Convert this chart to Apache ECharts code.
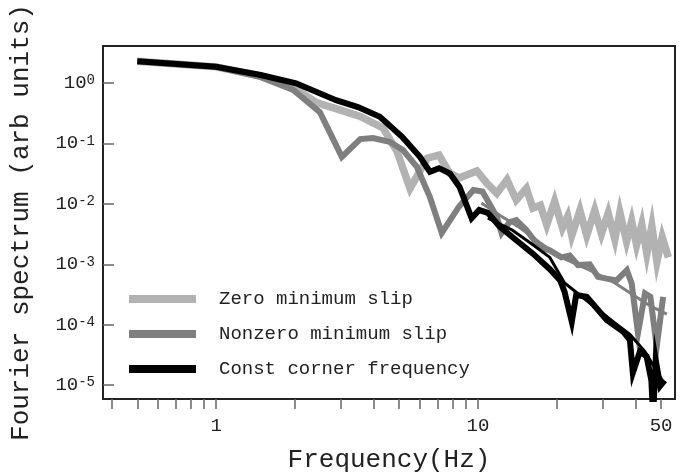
<!DOCTYPE html>
<html>
<head>
<meta charset="utf-8">
<script src="https://cdn.jsdelivr.net/npm/echarts@6/dist/echarts.min.js"></script>
<style>
  html, body { margin: 0; padding: 0; background: #fff; }
  #chart { width: 689px; height: 474px; }
</style>
</head>
<body>
<div id="chart"></div>
<script>
// frequency (Hz) / amplitude pairs
const zeroFreq = [0.5, 1.0, 1.48, 1.97, 2.43, 2.97, 3.55, 4.34, 4.9, 5.5, 6.4, 7.1, 7.8, 8.5, 9.9, 10.8, 11.8, 12.9, 14.0, 15.3, 16.2, 17.3, 18.3, 19.6, 21.0, 22.0, 22.8, 24.5, 26.0, 27.9, 29.6, 31.4, 33.3, 34.8, 36.9, 38.6, 40.3, 42.2, 44.1, 46.1, 48.2, 50.5, 53.3]
const zeroAmp = [2.3, 1.85, 1.3, 0.85, 0.47, 0.36, 0.28, 0.18, 0.075, 0.018, 0.057, 0.064, 0.032, 0.027, 0.035, 0.022, 0.015, 0.025, 0.0116, 0.018, 0.0085, 0.0095, 0.0045, 0.011, 0.0040, 0.0062, 0.003, 0.0078, 0.003, 0.0078, 0.0032, 0.007, 0.0026, 0.0072, 0.0024, 0.0052, 0.0021, 0.0046, 0.0015, 0.0043, 0.0011, 0.0028, 0.0013]

const nonzeroFreq = [0.5, 1.0, 1.48, 1.97, 2.49, 3.02, 3.55, 3.97, 4.6, 5.17, 5.84, 6.55, 7.27, 8.44, 9.6, 10.4, 11.8, 12.3, 13.2, 14.0, 15.3, 17.2, 18.8, 20.8, 22.4, 24.1, 26.7, 28.7, 31.0, 33.8, 37.0, 38.6, 40.8, 43.4, 45.5, 48.1, 50.9]
const nonzeroAmp = [2.3, 1.85, 1.25, 0.77, 0.33, 0.06, 0.118, 0.123, 0.106, 0.078, 0.041, 0.013, 0.0033, 0.0089, 0.017, 0.016, 0.0061, 0.0033, 0.005, 0.0054, 0.0037, 0.0019, 0.0017, 0.0013, 0.0014, 0.00097, 0.001, 0.00062, 0.00058, 0.00054, 0.0008, 0.00048, 0.000073, 0.00033, 0.00029, 0.000043, 0.00029]

const constFreq = [0.5, 1.0, 1.48, 2.02, 2.87, 3.48, 4.22, 5.13, 6.0, 6.55, 7.1, 7.8, 8.5, 9.45, 10.1, 10.9, 12.1, 14.0, 16.2, 18.8, 20.6, 21.4, 22.8, 23.7, 26.0, 31.0, 35.9, 38.0, 39.0, 41.5, 44.0, 45.9, 46.6, 47.7, 49.6, 51.6]
const constAmp = [2.3, 1.86, 1.36, 0.99, 0.52, 0.4, 0.277, 0.129, 0.06, 0.034, 0.039, 0.032, 0.019, 0.0058, 0.0079, 0.0071, 0.0042, 0.0025, 0.0015, 0.00083, 0.00054, 0.00035, 0.000112, 0.00031, 0.00029, 0.00012, 0.000076, 0.000056, 0.000016, 0.000036, 0.00003, 0.000012, 0.000003, 0.000026, 0.0000097, 0.000012]

// thinner companion curves above 10 Hz
const nonzeroFitFreq = [10.3, 12.1, 14.5, 17.2, 20.8, 26.7, 33.3, 40.1, 45.0, 52.6]
const nonzeroFitAmp = [0.0103, 0.0065, 0.004, 0.0023, 0.0013, 0.0008, 0.00049, 0.00029, 0.00021, 0.00015]
const constFitFreq = [10.9, 13.5, 16.2, 18.8, 21.4, 25.2, 33.0, 38.0, 43.4, 50.5]
const constFitAmp = [0.0058, 0.0037, 0.0021, 0.0013, 0.00049, 0.00028, 0.00011, 0.000069, 0.000036, 0.000012]

const xTicks = [0.4, 0.5, 0.6, 0.7, 0.8, 0.9, 1, 2, 3, 4, 5, 6, 7, 8, 9, 10, 20, 30, 40, 50]
const xLabels = [1, 10, 50]
const yTicks = [1e-5, 1e-4, 1e-3, 1e-2, 1e-1, 1]

const pairs = (xs, ys) => xs.map((x, i) => [x, ys[i]])

const font = 'Liberation Mono'
const chart = echarts.init(document.getElementById('chart'))

const line = (name, freq, amp, color, width) => ({
    name,
    type: 'line',
    data: pairs(freq, amp),
    symbol: 'none',
    color,
    lineStyle: { color, width, join: 'miter' },
    animation: false
})

chart.setOption({
    backgroundColor: '#fff',
    grid: {
        left: 103, right: 14, top: 46, bottom: 75,
        outerBoundsMode: 'none',
        show: true, borderColor: '#222', borderWidth: 2
    },
    legend: {
        orient: 'vertical',
        left: 124,
        top: 284,
        icon: 'rect',
        itemWidth: 67,
        itemHeight: 8,
        itemGap: 15,
        data: ['Zero minimum slip', 'Nonzero minimum slip', 'Const corner frequency'],
        textStyle: { fontFamily: font, fontSize: 19, color: '#222', lineHeight: 20, padding: [0, 0, 0, 18] }
    },
    xAxis: {
        type: 'log',
        min: 0.37,
        max: 56.5,
        name: 'Frequency(Hz)',
        nameLocation: 'middle',
        nameGap: 48,
        nameTextStyle: { fontFamily: font, fontSize: 26, color: '#222' },
        axisLine: { show: true, lineStyle: { color: '#222', width: 2 } },
        axisTick: { show: true, inside: false, length: 10, customValues: xTicks, lineStyle: { color: '#666', width: 1.5 } },
        axisLabel: { customValues: xLabels, margin: 17, fontFamily: font, fontSize: 19, color: '#222', formatter: v => String(Math.round(v)) },
        splitLine: { show: false },
        minorTick: { show: false }
    },
    yAxis: {
        type: 'log',
        min: 5.9e-6,
        max: 4.1,
        name: 'Fourier spectrum (arb units)',
        nameLocation: 'middle',
        nameGap: 69,
        nameTextStyle: { fontFamily: font, fontSize: 26, color: '#222' },
        axisLine: { show: true, lineStyle: { color: '#222', width: 2 } },
        axisTick: { show: true, inside: true, length: 11, customValues: yTicks, lineStyle: { color: '#666', width: 1.5 } },
        axisLabel: {
            customValues: yTicks,
            margin: 8,
            formatter: v => '{b|10}{s|' + Math.round(Math.log10(v)) + '}',
            rich: {
                b: { fontFamily: font, fontSize: 19, color: '#222', verticalAlign: 'bottom' },
                s: { fontFamily: font, fontSize: 14, color: '#222', verticalAlign: 'top' }
            }
        },
        splitLine: { show: false }
    },
    series: [
        line('Zero minimum slip', zeroFreq, zeroAmp, '#b2b2b2', 7.5),
        line('Nonzero minimum slip', nonzeroFreq, nonzeroAmp, '#7f7f7f', 6),
        line('nonzero fit', nonzeroFitFreq, nonzeroFitAmp, '#7f7f7f', 3),
        line('Const corner frequency', constFreq, constAmp, '#000', 6),
        line('const fit', constFitFreq, constFitAmp, '#000', 3)
    ]
})
</script>
</body>
</html>
